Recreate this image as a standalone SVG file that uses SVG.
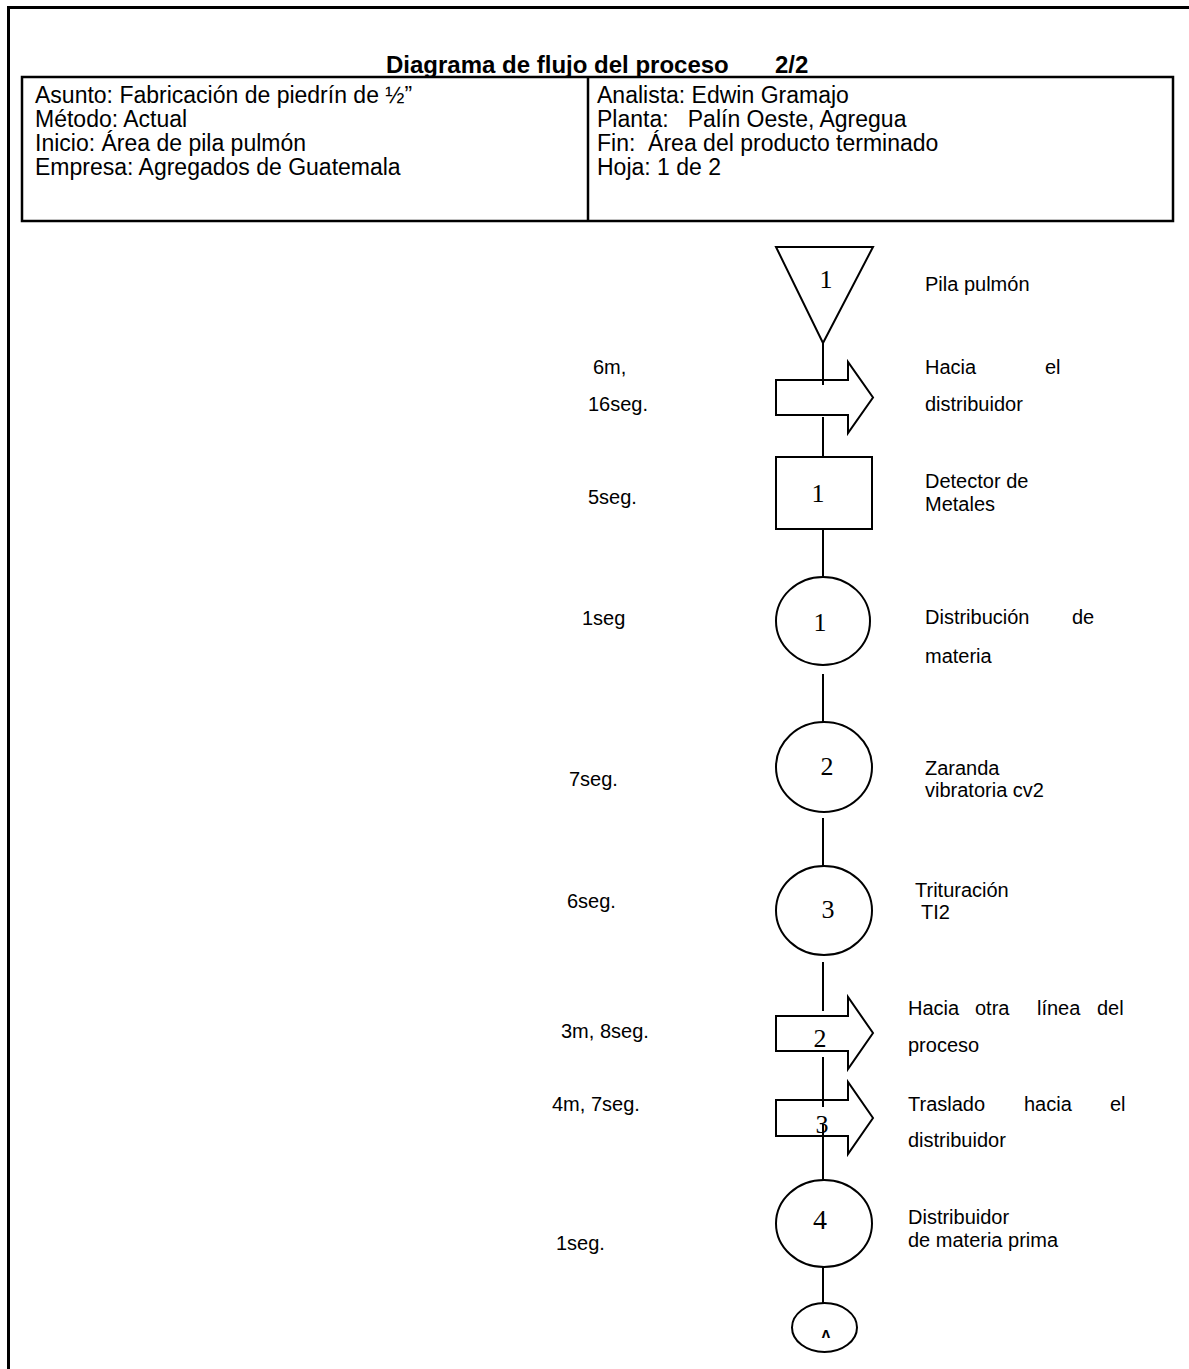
<svg xmlns="http://www.w3.org/2000/svg" width="1189" height="1369" viewBox="0 0 1189 1369">
  <style>
    .frame { stroke: #000; stroke-width: 3; fill: none; }
    .tbl { stroke: #000; stroke-width: 2.5; fill: none; }
    .shape { stroke: #000; stroke-width: 2; fill: #fff; }
    .conn { stroke: #000; stroke-width: 2; fill: none; }
    .title { font-family: "Liberation Sans", Arial, sans-serif; font-size: 24px; font-weight: bold; fill: #000; }
    .hdr { font-family: "Liberation Sans", Arial, sans-serif; font-size: 23px; fill: #000; }
    .lbl { font-family: "Liberation Sans", Arial, sans-serif; font-size: 20px; fill: #000; }
    .num { font-family: "Liberation Serif", "Times New Roman", serif; font-size: 26px; fill: #000; text-anchor: middle; }
  </style>

  <rect width="1189" height="1369" fill="#fff"/>

  <!-- page frame: top and left rules -->
  <line class="frame" x1="7" y1="7.5" x2="1189" y2="7.5"/>
  <line class="frame" x1="8.5" y1="6" x2="8.5" y2="1369"/>

  <!-- header -->
  <g id="header">
    <text class="title" x="386" y="73">Diagrama de flujo del proceso</text>
    <text class="title" x="775" y="73">2/2</text>
    <rect class="tbl" x="22" y="77" width="1151" height="144"/>
    <line class="tbl" x1="588" y1="77" x2="588" y2="221"/>
    <text class="hdr" x="35" y="103">Asunto: Fabricación de piedrín de ½”</text>
    <text class="hdr" x="35" y="127">Método: Actual</text>
    <text class="hdr" x="35" y="151">Inicio: Área de pila pulmón</text>
    <text class="hdr" x="35" y="175">Empresa: Agregados de Guatemala</text>
    <text class="hdr" x="597" y="103">Analista: Edwin Gramajo</text>
    <text class="hdr" x="597" y="127" xml:space="preserve">Planta:   Palín Oeste, Agregua</text>
    <text class="hdr" x="597" y="151" xml:space="preserve">Fin:  Área del producto terminado</text>
    <text class="hdr" x="597" y="175">Hoja: 1 de 2</text>
  </g>

  <!-- storage: pila pulmon -->
  <g id="storage-1">
    <polygon class="shape" points="776,247 873,247 823,343"/>
    <text class="num" x="826" y="288">1</text>
    <text class="lbl" x="925" y="291">Pila pulmón</text>
  </g>

  <!-- transport 1 -->
  <g id="transport-1">
    <polygon class="shape" points="776,380 848,380 848,362 873,397.5 848,433 848,415 776,415"/>
    <text class="lbl" x="593" y="374">6m,</text>
    <text class="lbl" x="588" y="411">16seg.</text>
    <text class="lbl" x="925" y="374">Hacia</text>
    <text class="lbl" x="1045" y="374">el</text>
    <text class="lbl" x="925" y="411">distribuidor</text>
  </g>

  <!-- inspection 1 -->
  <g id="inspection-1">
    <rect class="shape" x="776" y="457" width="96" height="72"/>
    <text class="num" x="818" y="502">1</text>
    <text class="lbl" x="588" y="504">5seg.</text>
    <text class="lbl" x="925" y="488">Detector de</text>
    <text class="lbl" x="925" y="511">Metales</text>
  </g>

  <!-- operation 1 -->
  <g id="operation-1">
    <ellipse class="shape" cx="823" cy="621" rx="47" ry="44"/>
    <text class="num" x="820" y="631">1</text>
    <text class="lbl" x="582" y="625">1seg</text>
    <text class="lbl" x="925" y="624">Distribución</text>
    <text class="lbl" x="1072" y="624">de</text>
    <text class="lbl" x="925" y="663">materia</text>
  </g>

  <!-- operation 2 -->
  <g id="operation-2">
    <ellipse class="shape" cx="824" cy="767" rx="48" ry="45"/>
    <text class="num" x="827" y="775">2</text>
    <text class="lbl" x="569" y="786">7seg.</text>
    <text class="lbl" x="925" y="775">Zaranda</text>
    <text class="lbl" x="925" y="797">vibratoria cv2</text>
  </g>

  <!-- operation 3 -->
  <g id="operation-3">
    <ellipse class="shape" cx="824" cy="910.5" rx="48" ry="44.5"/>
    <text class="num" x="828" y="918">3</text>
    <text class="lbl" x="567" y="908">6seg.</text>
    <text class="lbl" x="915" y="897">Trituración</text>
    <text class="lbl" x="921" y="919">TI2</text>
  </g>

  <!-- transport 2 -->
  <g id="transport-2">
    <polygon class="shape" points="776,1016 848,1016 848,997 873,1033 848,1069 848,1051 776,1051"/>
    <text class="num" x="820" y="1047">2</text>
    <text class="lbl" x="561" y="1038">3m, 8seg.</text>
    <text class="lbl" x="908" y="1015">Hacia</text>
    <text class="lbl" x="975" y="1015">otra</text>
    <text class="lbl" x="1037" y="1015">línea</text>
    <text class="lbl" x="1097" y="1015">del</text>
    <text class="lbl" x="908" y="1052">proceso</text>
  </g>

  <!-- transport 3 -->
  <g id="transport-3">
    <polygon class="shape" points="776,1100 848,1100 848,1082 873,1118 848,1154 848,1136 776,1136"/>
    <text class="num" x="822" y="1133">3</text>
    <text class="lbl" x="552" y="1111">4m, 7seg.</text>
    <text class="lbl" x="908" y="1111">Traslado</text>
    <text class="lbl" x="1024" y="1111">hacia</text>
    <text class="lbl" x="1110" y="1111">el</text>
    <text class="lbl" x="908" y="1147">distribuidor</text>
  </g>

  <!-- operation 4 -->
  <g id="operation-4">
    <ellipse class="shape" cx="824" cy="1223.5" rx="48" ry="43.5"/>
    <text class="num" x="820" y="1229" style="font-size:28px">4</text>
    <text class="lbl" x="556" y="1250">1seg.</text>
    <text class="lbl" x="908" y="1224">Distribuidor</text>
    <text class="lbl" x="908" y="1247">de materia prima</text>
  </g>

  <!-- off-page connector -->
  <g id="connector-a">
    <ellipse class="shape" cx="824.5" cy="1327.5" rx="32.5" ry="24.5"/>
    <text x="826" y="1338" text-anchor="middle" style="font-family:'Liberation Sans',Arial,sans-serif;font-size:15px;font-weight:bold">ʌ</text>
  </g>

  <!-- flow line segments -->
  <g id="connectors">
    <line class="conn" x1="823" y1="343" x2="823" y2="385"/>
    <line class="conn" x1="823" y1="417" x2="823" y2="457"/>
    <line class="conn" x1="823" y1="529" x2="823" y2="577"/>
    <line class="conn" x1="823" y1="674" x2="823" y2="722"/>
    <line class="conn" x1="823" y1="818" x2="823" y2="866"/>
    <line class="conn" x1="823" y1="962" x2="823" y2="1011"/>
    <line class="conn" x1="823" y1="1057" x2="823" y2="1107"/>
    <line class="conn" x1="823" y1="1124" x2="823" y2="1180"/>
    <line class="conn" x1="823" y1="1267" x2="823" y2="1303"/>
  </g>
</svg>
